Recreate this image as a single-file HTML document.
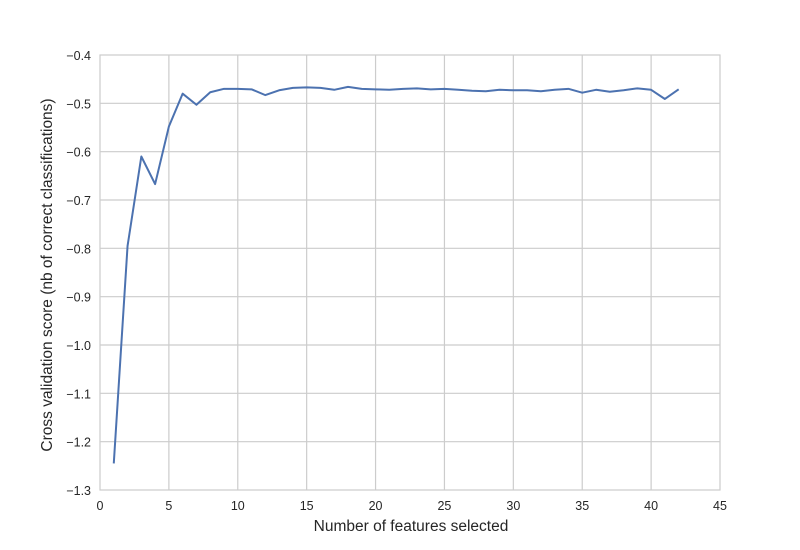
<!DOCTYPE html>
<html><head><meta charset="utf-8"><style>
body{margin:0;background:#fff;}
svg text{font-family:"Liberation Sans",Arial,sans-serif;fill:#262626;}
</style></head><body>
<svg id="chart" width="800" height="545" xmlns="http://www.w3.org/2000/svg">
<rect x="100" y="55" width="620" height="435" fill="#fff" stroke="#cccccc" stroke-width="1.2"/>
<g id="grid"></g><g id="ticks"></g>
<text x="411" y="531" font-size="15.5" text-anchor="middle">Number of features selected</text>
<text transform="translate(52,275) rotate(-90)" font-size="15.5" text-anchor="middle">Cross validation score (nb of correct classifications)</text>
</svg>
<script>
const features = [1,2,3,4,5,6,7,8,9,10,11,12,13,14,15,16,17,18,19,20,21,22,23,24,25,26,27,28,29,30,31,32,33,34,35,36,37,38,39,40,41,42];
const scores = [-1.245,-0.795,-0.61,-0.667,-0.548,-0.48,-0.503,-0.477,-0.47,-0.47,-0.471,-0.483,-0.473,-0.468,-0.467,-0.468,-0.472,-0.466,-0.47,-0.471,-0.472,-0.47,-0.469,-0.471,-0.47,-0.472,-0.474,-0.475,-0.472,-0.473,-0.473,-0.475,-0.472,-0.47,-0.478,-0.472,-0.476,-0.473,-0.469,-0.472,-0.491,-0.471];
const xTicks = [0,5,10,15,20,25,30,35,40,45];
const yTicks = [-0.4,-0.5,-0.6,-0.7,-0.8,-0.9,-1.0,-1.1,-1.2,-1.3];
const ns="http://www.w3.org/2000/svg";
const X=v=>100+v*(620/45);
const Y=v=>55+(-0.4-v)*(435/0.9);
const svg=document.getElementById('chart'), grid=document.getElementById('grid'), ticks=document.getElementById('ticks');
function mk(t,a,p){const e=document.createElementNS(ns,t);for(const k in a)e.setAttribute(k,a[k]);p.appendChild(e);return e;}
xTicks.forEach(v=>{
  if(v>0&&v<45){const l=mk('line',{x1:X(v),x2:X(v),y1:55,y2:490,stroke:'#cccccc','stroke-width':1.2},grid);
  
  }
  const t=mk('text',{x:X(v),y:510,'font-size':12.5,'text-anchor':'middle'},ticks);t.textContent=v;
  
  
});
yTicks.forEach(v=>{
  if(v<-0.41&&v>-1.29){const l=mk('line',{x1:100,x2:720,y1:Y(v),y2:Y(v),stroke:'#cccccc','stroke-width':1.2},grid);
  
  }
  const t=mk('text',{x:91,y:Y(v)+5,'font-size':12.5,'text-anchor':'end'},ticks);t.textContent=v.toFixed(1).replace('-','\u2212');
  
  
});
const p=mk('polyline',{points:features.map((f,i)=>X(f)+','+Y(scores[i])).join(' '),fill:'none',stroke:'#4c72b0','stroke-width':2,'stroke-linejoin':'round'},svg);


</script>
</body></html>
